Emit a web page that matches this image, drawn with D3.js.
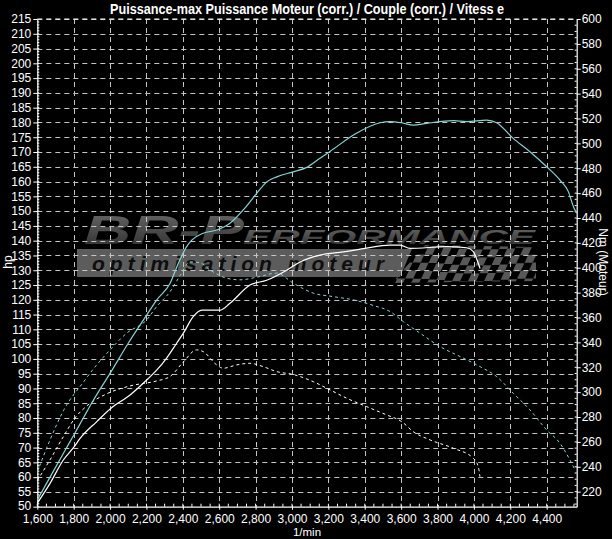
<!DOCTYPE html>
<html><head><meta charset="utf-8">
<script src="https://cdn.jsdelivr.net/npm/d3@7"></script>
<style>html,body{margin:0;padding:0;background:#000;}svg{display:block}</style>
</head><body><svg id="c" width="612" height="539"></svg>
<script>
// ---------- DATA ----------
const chartTitle = "Puissance-max Puissance Moteur (corr.) / Couple (corr.) / Vitess e";
const xLabel = "1/min";
const leftLabel = "hp";
const rightLabel = "Nm (Moteur)";
const xTicks = d3.range(1600, 4401, 200);
const hpTicks = d3.range(50, 216, 5);
const nmTicks = d3.range(220, 601, 20);

// Tuned power (cyan solid, hp)
const tunedPowerRpm = [1600,1670,1743,1803,1853,1908,2005,2099,2201,2256,2330,2375,2421,2449,2512,2586,2659,2732,2806,2861,2916,3007,3081,3154,3209,3356,3484,3539,3603,3667,3740,3887,3960,4070,4125,4216,4308,4400,4473,4519,4547,4565];
const tunedPowerHp  = [52.3,60.0,68.0,74.5,80.0,86.0,95.6,105.2,114.8,119.9,125.6,132.3,138.0,140.2,142.5,143.6,145.9,150.4,156.0,159.9,161.6,163.3,164.8,167.9,170.2,176.4,179.9,180.3,179.9,179.1,179.7,180.6,180.3,180.8,179.9,174.6,170.1,165.0,160.5,156.6,151.5,149.3];

// Tuned torque (cyan dashed, Nm)
const tunedTorqueRpm = [1600,1670,1743,1853,1927,2000,2091,2201,2256,2329,2384,2439,2494,2549,2641,2714,2824,2916,3007,3117,3227,3337,3447,3539,3612,3704,3814,3924,4034,4125,4216,4308,4400,4473,4528,4556];
const tunedTorqueNm  = [235.8,261.6,285.0,308.0,322.0,334.0,347.4,358.1,368.8,380.6,393.5,404.7,404.0,398.3,391.6,390.3,393.0,395.7,387.6,379.6,376.8,374.2,369.7,364.8,356.7,347.4,336.6,328.6,320.5,312.5,299.1,285.7,269.6,258.9,245.4,237.4];

// Stock power (white solid, hp)
const stockPowerRpm = [1600,1670,1743,1803,1835,1927,2005,2110,2207,2256,2311,2366,2403,2457,2504,2604,2659,2769,2861,2971,3045,3154,3282,3392,3539,3594,3649,3850,3960,3997,4022,4034];
const stockPowerHp  = [51.2,57.9,65.8,70.3,73.1,78.8,83.3,87.8,93.2,96.2,100.3,105.3,108.7,114.3,116.5,116.5,118.8,125.0,126.6,130.0,132.8,135.1,136.2,137.3,138.5,138.5,137.4,138.0,137.6,136.3,132.7,130.6];

// Stock torque (white dashed, Nm)
const stockTorqueRpm = [1600,1670,1743,1807,1872,1981,2110,2256,2329,2403,2476,2512,2586,2622,2696,2769,2842,2916,3007,3117,3209,3301,3411,3520,3603,3667,3759,3887,3997,4024,4033];
const stockTorqueNm  = [229.0,245.6,264.2,279.2,288.9,298.6,305.0,309.0,312.5,324.3,334.0,332.6,321.9,319.2,321.9,323.2,320.5,316.5,314.2,308.4,301.8,295.1,288.3,281.7,276.3,268.2,261.6,254.9,246.8,240.1,232.1];

// ---------- LAYOUT ----------
const W = 612, H = 539;
const L = 37.3, R = 576.7, T = 19, B = 506.7;
const font = "'Liberation Sans Narrow','Arial Narrow','Liberation Sans',Arial,sans-serif";
const cyan = "#86d4d4";
const fs = 12;

const x = d3.scaleLinear().domain([1600, 4565]).range([L, R]);
const yL = d3.scaleLinear().domain([50, 215]).range([B, T]);
const yR = d3.scaleLinear().domain([207.9, 600]).range([B, T]);

const svg = d3.select("#c");
svg.append("rect").attr("width", W).attr("height", H).attr("fill", "#000");

// ---------- WATERMARK ----------
const defs = svg.append("defs");
const g1 = defs.append("linearGradient").attr("id","wmg").attr("x1","0").attr("y1","0").attr("x2","0").attr("y2","1");
g1.append("stop").attr("offset","0").attr("stop-color","#6a6a6a");
g1.append("stop").attr("offset","1").attr("stop-color","#2c2c2c");
const wm = svg.append("g");
wm.append("text").attr("x", 84).attr("y", 244).attr("font-family","'Liberation Sans',Arial,sans-serif")
  .attr("font-weight","bold").attr("font-style","italic").attr("font-size",40)
  .attr("textLength",160).attr("lengthAdjust","spacingAndGlyphs")
  .attr("fill","url(#wmg)").text("BR-P");
wm.append("text").attr("x", 243).attr("y", 244).attr("font-family","'Liberation Sans',Arial,sans-serif")
  .attr("font-weight","bold").attr("font-style","italic").attr("font-size",21)
  .attr("textLength",292).attr("lengthAdjust","spacingAndGlyphs")
  .attr("fill","url(#wmg)").text("ERFORMANCE");
// band
wm.append("path").attr("d","M77,249 L412,249 L400,277 L77,277 Z").attr("fill","#5c5c5c");
// checkered flag
const clip = defs.append("clipPath").attr("id","flag");
clip.append("path").attr("d","M392,283 L425,245 L536,247 L536,281 Z");
const fg = wm.append("g").attr("clip-path","url(#flag)");
const cg = fg.append("g").attr("transform","translate(465,264) skewX(-25) translate(-465,-264)");
const sq = 8;
for (let i = 0; i < 22; i++) {
  for (let j = 0; j < 6; j++) {
    if ((i + j) % 2 === 0) {
      cg.append("rect").attr("x", 380 + i * sq).attr("y", 240 + j * sq - Math.sin(i / 2.5) * 1.5)
        .attr("width", sq).attr("height", sq).attr("fill", "#585858");
    }
  }
}
wm.append("text").attr("x", 92).attr("y", 271).attr("font-family","'Liberation Sans',Arial,sans-serif")
  .attr("font-weight","bold").attr("font-style","italic").attr("font-size",21)
  .attr("textLength",292).attr("lengthAdjust","spacing")
  .attr("fill","#0e0e0e").text("optimisation  moteur");

// ---------- GRID ----------
const grid = svg.append("g").attr("stroke","#c4c4c4").attr("stroke-width",1).attr("stroke-dasharray","5,4");
grid.selectAll("line.h").data(hpTicks.filter(v => v > 50)).join("line")
  .attr("x1", L).attr("x2", R).attr("y1", d => Math.round(yL(d)) + 0.5).attr("y2", d => Math.round(yL(d)) + 0.5);
grid.selectAll("line.v").data(xTicks.filter(v => v > 1600)).join("line")
  .attr("y1", T).attr("y2", B).attr("x1", d => Math.round(x(d)) + 0.5).attr("x2", d => Math.round(x(d)) + 0.5);

// ---------- AXES ----------
function styleAxis(g) {
  g.select(".domain").attr("stroke", "#fff").attr("stroke-width", 1.2);
  g.selectAll(".tick line").attr("stroke", "#fff");
  g.selectAll(".tick text").attr("fill", "#fff").attr("font-family", font).attr("font-size", fs);
}
svg.append("g").attr("transform", `translate(${L},0)`)
  .call(d3.axisLeft(yL).tickValues(hpTicks).tickSize(4).tickSizeOuter(0).tickPadding(2).tickFormat(d3.format("d")))
  .call(styleAxis)
  .call(g => g.selectAll(".tick text").filter(d => d === 50).attr("y", -1.3));
svg.append("g").attr("transform", `translate(${R},0)`)
  .call(d3.axisRight(yR).tickValues(nmTicks).tickSize(4).tickSizeOuter(0).tickPadding(1).tickFormat(d3.format("d")))
  .call(styleAxis);
svg.append("g").attr("transform", `translate(0,${B})`)
  .call(d3.axisBottom(x).tickValues(xTicks).tickSize(3).tickSizeOuter(0).tickPadding(5).tickFormat(d3.format(",")))
  .call(styleAxis);
// top border line
svg.append("line").attr("x1", L).attr("x2", R).attr("y1", T).attr("y2", T).attr("stroke","#fff").attr("stroke-dasharray","5,4");
// minor ticks
const minor = svg.append("g").attr("stroke", "#fff").attr("stroke-width", 1);
minor.selectAll("line.mx").data(d3.range(1600, 4565, 50)).join("line")
  .attr("x1", d => x(d)).attr("x2", d => x(d)).attr("y1", B).attr("y2", B - 3);
minor.selectAll("line.ml").data(d3.range(50, 215, 1)).join("line")
  .attr("x1", L).attr("x2", L + 2).attr("y1", d => yL(d)).attr("y2", d => yL(d));
minor.selectAll("line.mr").data(d3.range(210, 600, 5)).join("line")
  .attr("x1", R).attr("x2", R - 2).attr("y1", d => yR(d)).attr("y2", d => yR(d));

// ---------- CURVES ----------
const lineL = d3.line().x(d => x(d[0])).y(d => yL(d[1])).curve(d3.curveMonotoneX);
const lineR = d3.line().x(d => x(d[0])).y(d => yR(d[1])).curve(d3.curveMonotoneX);
const curves = svg.append("g").attr("fill", "none");
curves.append("path").datum(d3.zip(stockTorqueRpm, stockTorqueNm)).attr("d", lineR)
  .attr("stroke", "#fff").attr("stroke-width", 1).attr("stroke-dasharray", "3,3");
curves.append("path").datum(d3.zip(tunedTorqueRpm, tunedTorqueNm)).attr("d", lineR)
  .attr("stroke", cyan).attr("stroke-width", 1).attr("stroke-dasharray", "3,3");
curves.append("path").datum(d3.zip(stockPowerRpm, stockPowerHp)).attr("d", lineL)
  .attr("stroke", "#fff").attr("stroke-width", 1.2);
curves.append("path").datum(d3.zip(tunedPowerRpm, tunedPowerHp)).attr("d", lineL)
  .attr("stroke", cyan).attr("stroke-width", 1.2);

// ---------- TEXT ----------
svg.append("text").attr("x", 307).attr("y", 14).attr("text-anchor", "middle")
  .attr("font-family", font).attr("font-weight", "bold").attr("font-size", 14)
  .attr("textLength", 394).attr("lengthAdjust", "spacingAndGlyphs")
  .attr("fill", "#fff").text(chartTitle);
svg.append("text").attr("x", 307).attr("y", 536).attr("text-anchor", "middle")
  .attr("font-family", font).attr("font-size", 11.5).attr("fill", "#fff").text(xLabel);
svg.append("text").attr("transform", "translate(12,262) rotate(-90)").attr("text-anchor", "middle")
  .attr("font-family", font).attr("font-size", fs).attr("fill", "#fff").text(leftLabel);
svg.append("text").attr("transform", "translate(599,262) rotate(90)").attr("text-anchor", "middle")
  .attr("font-family", font).attr("font-size", fs).attr("fill", "#fff").text(rightLabel);
</script></body></html>
